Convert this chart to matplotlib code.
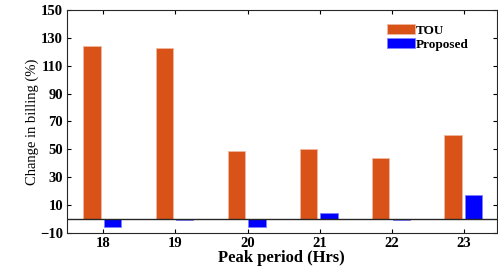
import matplotlib
matplotlib.use("Agg")
from matplotlib import pyplot as plt
import numpy as np

hours = [18, 19, 20, 21, 22, 23]
tou = [124, 123, 48.5, 50, 43.5, 60.5]
proposed = [-5.5, -1, -5.5, 4.5, -1, 17]

plt.rcParams['font.family'] = ['Liberation Serif', 'DejaVu Serif']

fig = plt.figure(figsize=(4.98, 2.69), dpi=100)
ax = fig.add_axes([0.135, 0.134, 0.862, 0.829])

x = np.array(hours, dtype=float)
w = 0.24
ax.bar(x - 0.155, tou, w, color='#D95319', edgecolor='#F0B8A0', linewidth=0.6, label='TOU')
ax.bar(x + 0.13, proposed, w, color='#0000FF', edgecolor='#8080FF', linewidth=0.6, label='Proposed')
ax.axhline(0, color='#262626', linewidth=1.0)

ax.set_xlim(17.5, 23.45)
ax.set_ylim(-10, 150)
ax.set_xticks(hours)
ax.set_yticks(np.arange(-10, 151, 20))
ax.tick_params(direction='in', top=True, right=True, length=3, width=0.8, labelsize=10.5, pad=3)
for lab in ax.get_xticklabels() + ax.get_yticklabels():
    lab.set_fontweight('bold')
for s in ax.spines.values():
    s.set_linewidth(0.8)
    s.set_color('#262626')

ax.set_xlabel('Peak period (Hrs)', fontsize=12, fontweight='bold', labelpad=0)
ax.set_ylabel('Change in billing (%)', fontsize=10.5, labelpad=1)

ax.legend(loc='upper left', bbox_to_anchor=(0.745, 0.935), frameon=False,
          prop={'weight': 'bold', 'size': 9.5}, handlelength=2.1, handleheight=0.75,
          labelspacing=0.1, handletextpad=0.05, borderaxespad=0, borderpad=0)

plt.savefig('out.png', dpi=100)
